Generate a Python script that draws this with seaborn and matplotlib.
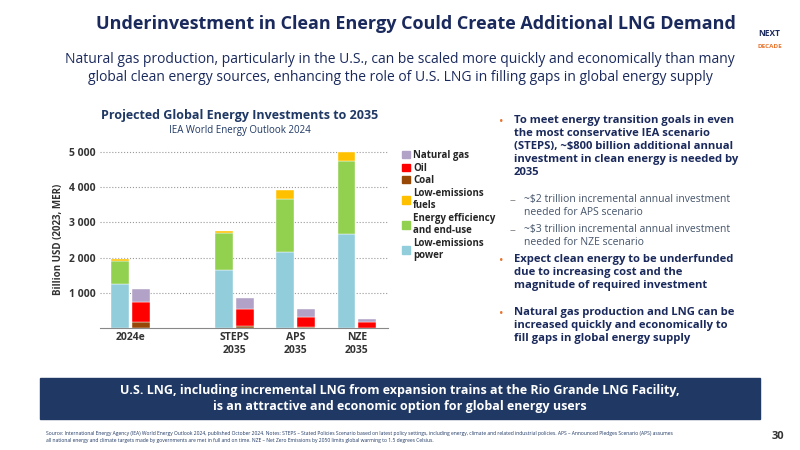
import matplotlib
matplotlib.use("Agg")
import matplotlib.pyplot as plt
import seaborn as sns
import numpy as np
from matplotlib.patches import Rectangle, Patch

sns.set_style("white")
plt.rcParams['font.family'] = ['Open Sans', 'DejaVu Sans']

groups = ["2024e", "STEPS\n2035", "APS\n2035", "NZE\n2035"]
positions = [0, 1.7, 2.7, 3.7]
# clean energy stack
low_em_power = [1250, 1650, 2170, 2680]
efficiency = [650, 1050, 1500, 2060]
low_em_fuels = [50, 70, 260, 260]
# fossil stack
coal = [170, 60, 40, 10]
oil = [580, 470, 280, 160]
natural_gas = [350, 320, 220, 90]

C_POWER, C_EFF, C_FUEL = "#92cddc", "#92d050", "#ffc000"
C_COAL, C_OIL, C_GAS = "#974706", "#ff0000", "#b3a2c7"
NAVY = "#1b2a5c"

fig = plt.figure(figsize=(8, 4.5), dpi=100)
ax = fig.add_axes([0.125, 0.271, 0.36, 0.395])
w, off = 0.29, 0.17
pos = np.array(positions)
b = np.zeros(4)
for vals, c in [(low_em_power, C_POWER), (efficiency, C_EFF), (low_em_fuels, C_FUEL)]:
    ax.bar(pos - off, vals, w, bottom=b, color=c, edgecolor="white", linewidth=0.3)
    b += np.array(vals)
b = np.zeros(4)
for vals, c in [(coal, C_COAL), (oil, C_OIL), (natural_gas, C_GAS)]:
    ax.bar(pos + off, vals, w, bottom=b, color=c, edgecolor="white", linewidth=0.3)
    b += np.array(vals)
ax.set_xlim(-0.5, 4.21)
ax.set_ylim(0, 5050)
ax.set_yticks([1000, 2000, 3000, 4000, 5000])
ax.set_yticklabels(["1 000", "2 000", "3 000", "4 000", "5 000"], fontsize=7.5, fontweight="bold", color="#333")
ax.set_xticks(pos)
ax.set_xticklabels(groups, fontsize=7.5, fontweight="bold", color="#333")
ax.tick_params(length=0, pad=3)
ax.yaxis.grid(True, linestyle=":", color="#999", linewidth=0.8)
for s in ["top", "right", "left"]:
    ax.spines[s].set_visible(False)
ax.spines["bottom"].set_color("#888")
ax.set_ylabel("Billion USD (2023, MER)", fontsize=7, fontweight="bold", color="#333")

handles = [Patch(color=C_GAS), Patch(color=C_OIL), Patch(color=C_COAL), Patch(color=C_FUEL),
           Patch(color=C_EFF), Patch(color=C_POWER)]
labels = ["Natural gas", "Oil", "Coal", "Low-emissions\nfuels", "Energy efficiency\nand end-use", "Low-emissions\npower"]
fig.legend(handles, labels, loc="upper left", bbox_to_anchor=(0.498, 0.675), frameon=False,
           prop={"size": 7, "weight": "bold"}, handlelength=0.8, handleheight=0.8,
           handletextpad=0.3, labelspacing=0.15, borderaxespad=0)

fig.text(0.30, 0.735, "Projected Global Energy Investments to 2035", ha="center", fontsize=9,
         fontweight="bold", color="#1f3864")
fig.text(0.30, 0.705, "IEA World Energy Outlook 2024", ha="center", fontsize=7, color="#1f3864")

fig.text(0.52, 0.935, "Underinvestment in Clean Energy Could Create Additional LNG Demand", ha="center",
         fontsize=13, fontweight="bold", color=NAVY)
fig.text(0.5, 0.82, "Natural gas production, particularly in the U.S., can be scaled more quickly and economically than many\n"
         "global clean energy sources, enhancing the role of U.S. LNG in filling gaps in global energy supply",
         ha="center", fontsize=10, color=NAVY, linespacing=1.3)
fig.text(0.962, 0.92, "NEXT", ha="center", fontsize=6, fontweight="bold", color=NAVY)
fig.text(0.962, 0.893, "DECADE", ha="center", fontsize=4.5, fontweight="bold", color="#e8742d")

bullets = [
    (0.744, "•", "To meet energy transition goals in even\nthe most conservative IEA scenario\n(STEPS), ~$800 billion additional annual\ninvestment in clean energy is needed by\n2035", True, 0.642),
    (0.568, "–", "~$2 trillion incremental annual investment\nneeded for APS scenario", False, 0.655),
    (0.503, "–", "~$3 trillion incremental annual investment\nneeded for NZE scenario", False, 0.655),
    (0.435, "•", "Expect clean energy to be underfunded\ndue to increasing cost and the\nmagnitude of required investment", True, 0.642),
    (0.318, "•", "Natural gas production and LNG can be\nincreased quickly and economically to\nfill gaps in global energy supply", True, 0.642),
]
for y, sym, txt, bold, x in bullets:
    fig.text(x - 0.018, y, sym, fontsize=8.5, color="#e8742d" if bold else "#888", va="top")
    fig.text(x, y, txt, fontsize=8.1 if bold else 7.5, fontweight="bold" if bold else "normal",
             color=NAVY if bold else "#44546a", va="top", linespacing=1.25)

fig.patches.append(Rectangle((0.05, 0.068), 0.9, 0.092, transform=fig.transFigure, color="#203864", zorder=0))
fig.text(0.5, 0.114, "U.S. LNG, including incremental LNG from expansion trains at the Rio Grande LNG Facility,\n"
         "is an attractive and economic option for global energy users", ha="center", va="center",
         fontsize=9, fontweight="bold", color="white", linespacing=1.3)

fig.text(0.058, 0.018, "Source: International Energy Agency (IEA) World Energy Outlook 2024, published October 2024. Notes: STEPS – Stated Policies Scenario based on latest policy settings, including energy, climate and related industrial policies. APS – Announced Pledges Scenario (APS) assumes\n"
         "all national energy and climate targets made by governments are met in full and on time. NZE – Net Zero Emissions by 2050 limits global warming to 1.5 degrees Celsius.",
         fontsize=3.6, color="#1f3864", linespacing=1.4)
fig.text(0.965, 0.025, "30", fontsize=8, fontweight="bold", color="#333")

fig.savefig("out.png", dpi=100)
